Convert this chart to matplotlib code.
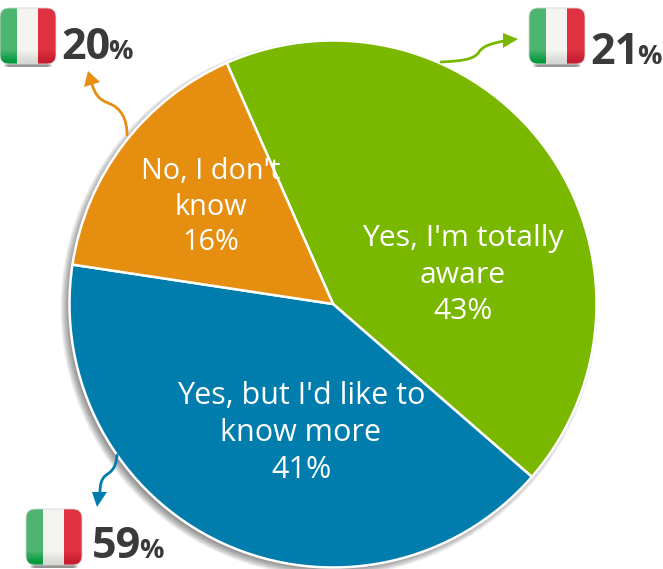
import numpy as np
import matplotlib
matplotlib.use("Agg")
import matplotlib.pyplot as plt
from matplotlib.patches import Circle, FancyBboxPatch, PathPatch, Polygon
from matplotlib.path import Path

categories = ["Yes, I'm totally\naware", "Yes, but I'd like to\nknow more", "No, I don't\nknow"]
shares = [43, 41, 16]
colors = ["#7AB800", "#007DAC", "#E68E0F"]
national_figures = [21, 59, 20]

W, H = 663, 569
fig = plt.figure(figsize=(W / 100, H / 100), dpi=100)
ax = fig.add_axes([0, 0, 1, 1])
ax.set_xlim(0, W)
ax.set_ylim(0, H)
ax.set_aspect("equal")
ax.axis("off")

FONT = "Open Sans"
cx, cy, radius = 333, H - 304, 263.5


def py(y):
    return H - y


# soft drop shadow, offset towards the lower left
for i in range(10):
    ax.add_patch(Circle((cx - 4, cy - 4), radius + 5 - i * 0.9, color="#000000",
                        alpha=0.05, lw=0, zorder=1))

wedges, _ = ax.pie(shares, colors=colors, startangle=113.8, counterclock=False,
                   center=(cx, cy), radius=radius, frame=True,
                   wedgeprops=dict(edgecolor="white", linewidth=1.8, zorder=2))
ax.set_xlim(0, W)
ax.set_ylim(0, H)
ax.axis("off")

label_pos = [(463, 275), (301, 433), (211, 207)]
label_size = [21.7, 22.0, 20.8]
label_gap = [1.32, 1.31, 1.28]
for cat, share, (x, y), fs, gap in zip(categories, shares, label_pos, label_size, label_gap):
    ax.text(x, py(y), f"{cat}\n{share}%", color="white", fontsize=fs, family=FONT,
            ha="center", va="center", linespacing=gap, zorder=5)


def flag(x0, y0, size=56):
    """Glossy rounded Italian flag with its top-left corner at pixel (x0, y0)."""
    # shadow under the tile
    for k in range(5):
        ax.add_patch(FancyBboxPatch((x0 + 4 + k, py(y0 + size + 3)), size - 8 - 2 * k, 3,
                                    boxstyle="round,pad=0,rounding_size=1.5",
                                    fc="#000000", ec="none", alpha=0.10, zorder=3))
    n = 56
    yy = np.linspace(0, 1, n)[:, None, None]
    img = np.zeros((n, n, 3))
    stripes = [np.array([0x4D, 0xB5, 0x70]), np.array([0xF4, 0xF5, 0xF1]), np.array([0xE0, 0x31, 0x40])]
    bottoms = [np.array([0x05, 0x9A, 0x3E]), np.array([0xD8, 0xDA, 0xD5]), np.array([0xC4, 0x1E, 0x30])]
    edges = [0, 17, 38, 56]
    for j in range(3):
        a, b = edges[j], edges[j + 1]
        fade = np.clip((yy - 0.75) / 0.2, 0, 1)
        img[:, a:b] = (stripes[j] * (1 - fade) + bottoms[j] * fade) / 255
    extent = (x0, x0 + size, py(y0 + size), py(y0))
    im = ax.imshow(img, extent=extent, origin="upper", zorder=4, aspect="auto", interpolation="bilinear")
    clip = FancyBboxPatch((x0, py(y0 + size)), size, size,
                          boxstyle="round,pad=0,rounding_size=9",
                          fc="none", ec="#D5D5D5", lw=0.6, zorder=4.2)
    ax.add_patch(clip)
    im.set_clip_path(clip)


def figure_label(value, x, baseline):
    t = ax.text(x, py(baseline), str(value), fontsize=31, fontweight="bold", family=FONT,
                color="#3A3A3A", ha="left", va="baseline", zorder=5)
    bb = t.get_window_extent(fig.canvas.get_renderer())
    ax.text(bb.x1 - 2, py(baseline), "%", fontsize=19.5, fontweight="bold", family=FONT,
            color="#3A3A3A", ha="left", va="baseline", zorder=5)


def curved_arrow(points, head, color):
    verts = [(x, py(y)) for x, y in points]
    codes = [Path.MOVETO] + [Path.CURVE4] * (len(verts) - 1)
    ax.add_patch(PathPatch(Path(verts, codes), fc="none", ec=color, lw=2.0,
                           capstyle="round", zorder=5))
    ax.add_patch(Polygon([(x, py(y)) for x, y in head], closed=True, fc=color, ec="none", zorder=5))


# top-left callout
flag(0, 8)
figure_label(national_figures[2], 61, 59)
curved_arrow([(127, 135), (127, 120), (122, 108), (108, 103), (100, 100), (95, 95), (92, 84)],
             [(88, 71), (100, 82), (84, 87)], colors[2])

# top-right callout
flag(529, 8)
figure_label(national_figures[0], 590, 64)
curved_arrow([(441, 62), (460, 61), (474, 60), (479, 52), (483, 46), (492, 43), (505, 41)],
             [(518, 39), (503, 33), (503, 48)], colors[0])

# bottom-left callout
flag(26, 509)
figure_label(national_figures[1], 92, 558)
curved_arrow([(117, 455), (116, 470), (110, 472), (105, 476), (101, 480), (100, 485), (100, 493)],
             [(97, 507), (107, 492), (92, 492)], colors[1])

fig.savefig("out.png", dpi=100, facecolor="white")
